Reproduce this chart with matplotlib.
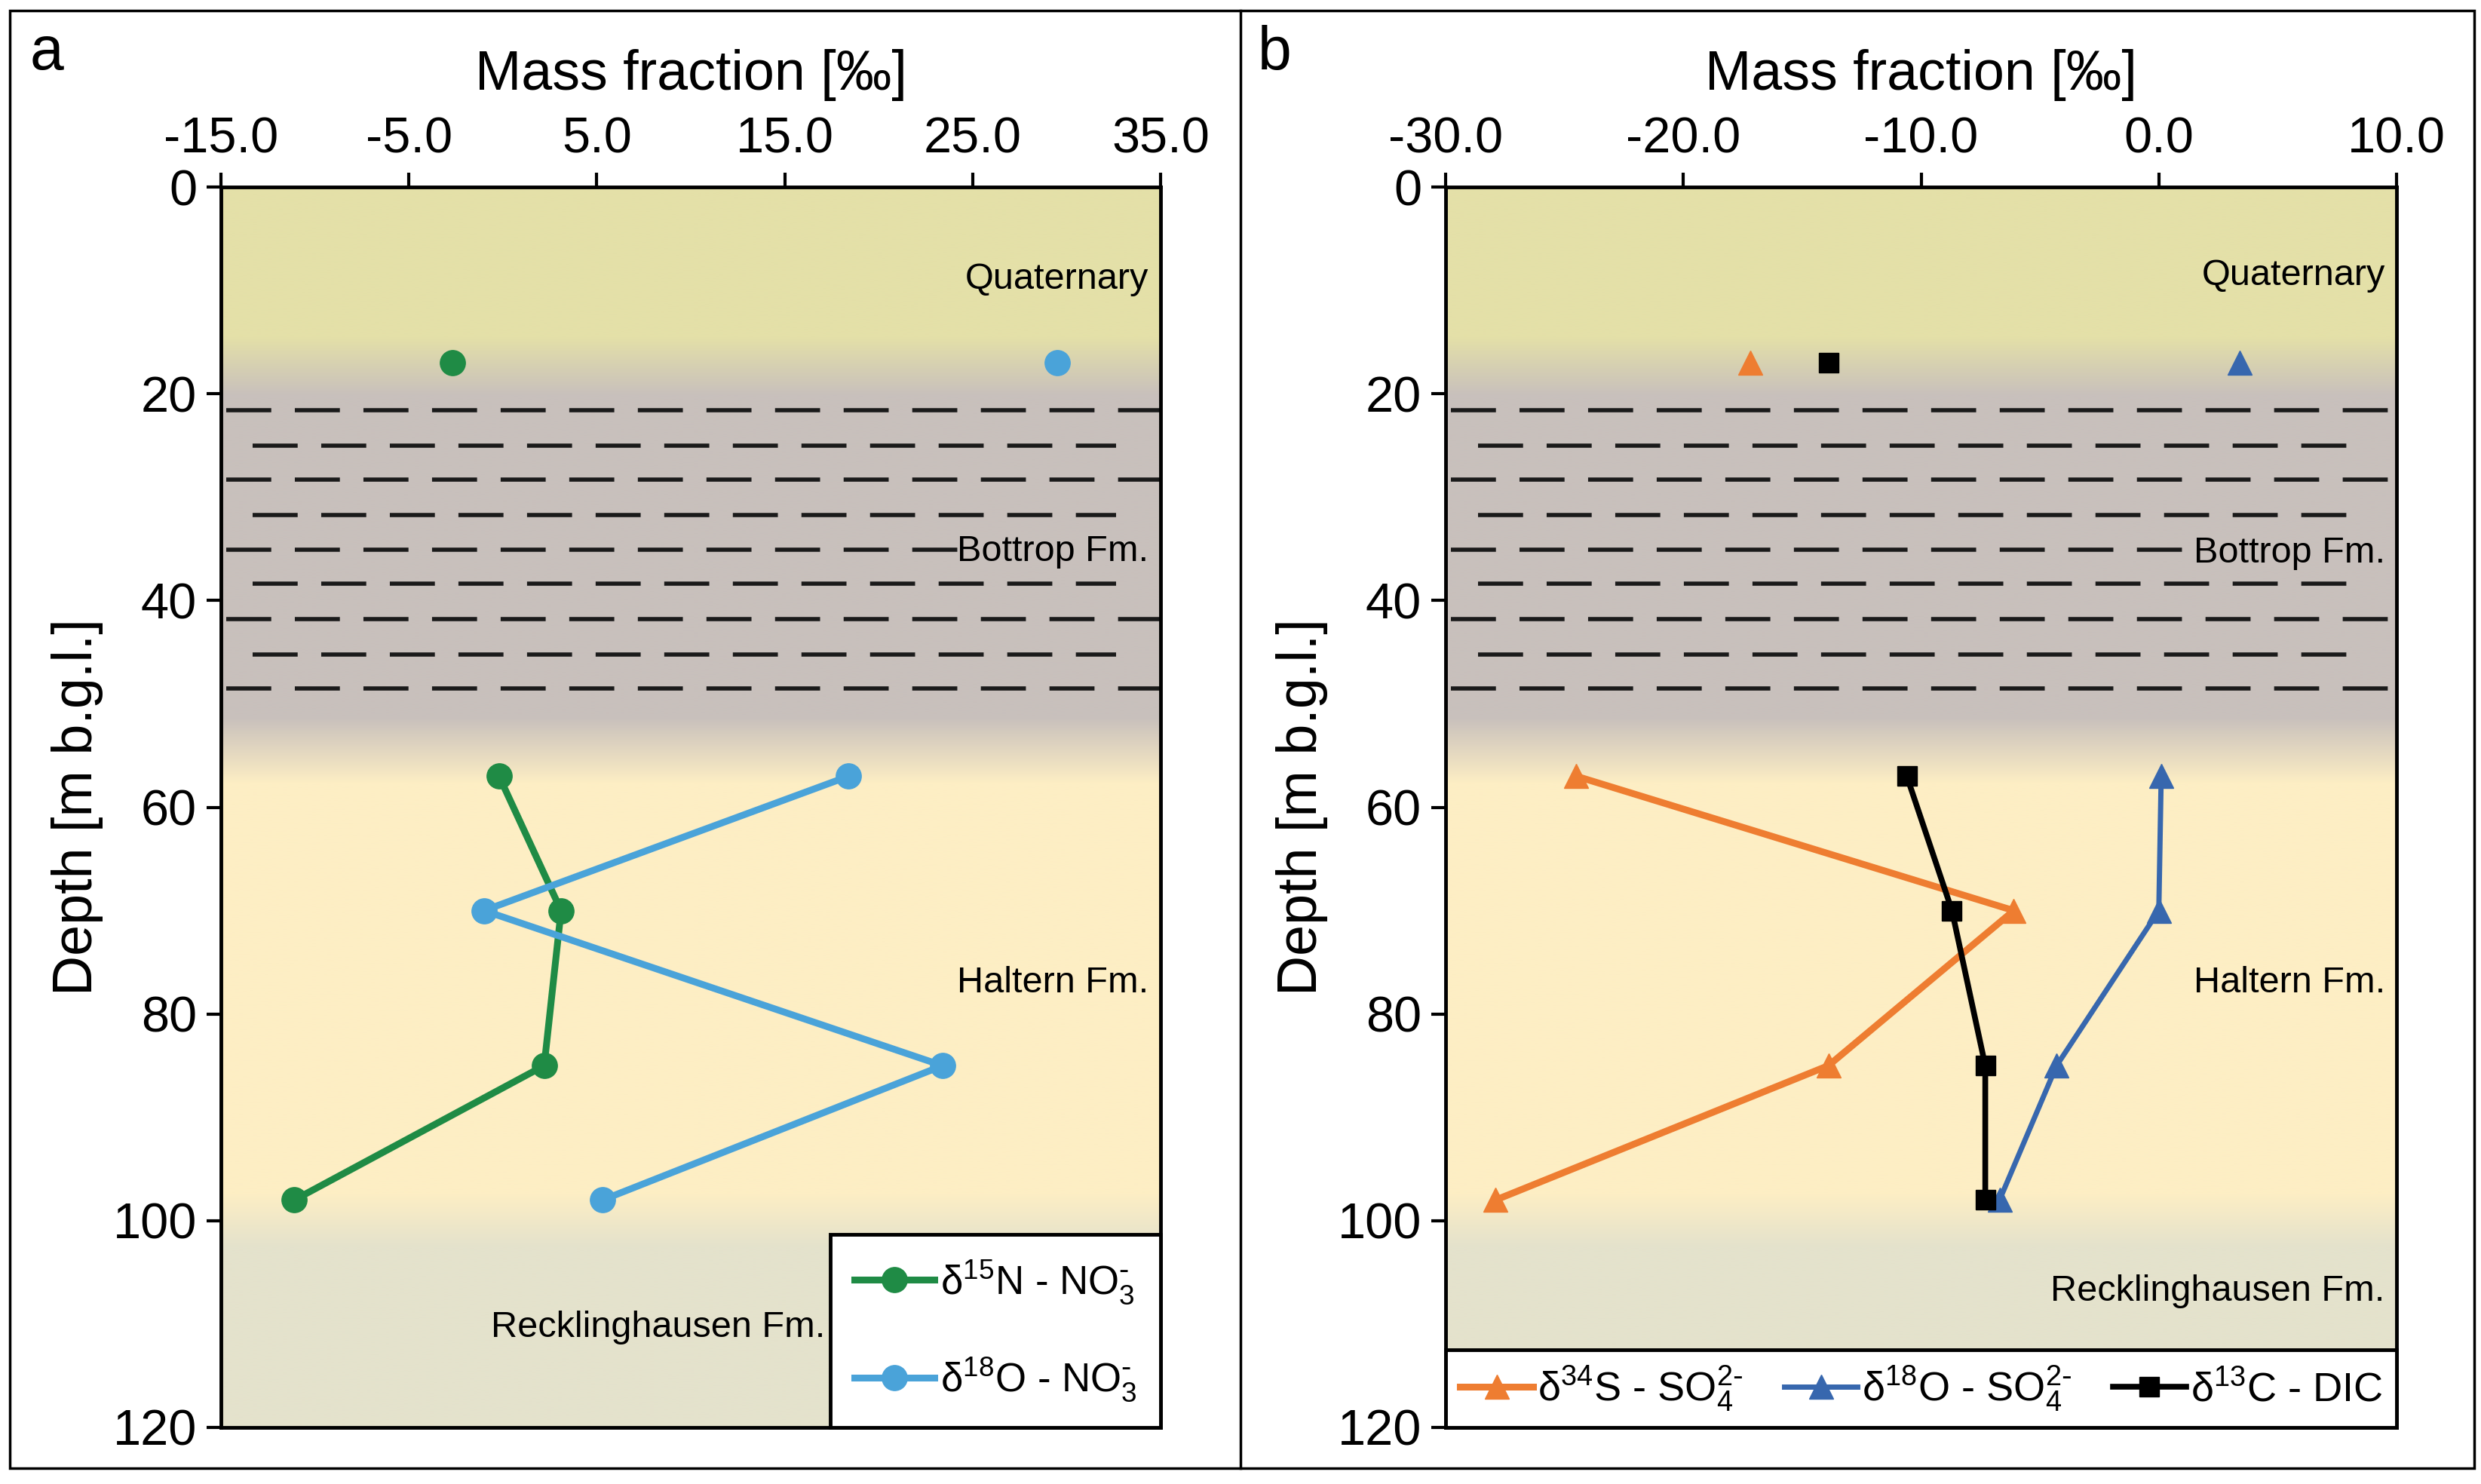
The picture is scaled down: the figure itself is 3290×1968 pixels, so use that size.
import numpy as np
import matplotlib
matplotlib.use("Agg")
from matplotlib import pyplot as plt
from matplotlib.colors import to_rgb
from matplotlib.patches import Rectangle
from matplotlib.lines import Line2D
from matplotlib.ticker import FormatStrFormatter

plt.rcParams['font.family'] = ['Liberation Sans', 'DejaVu Sans']
plt.rcParams['mathtext.default'] = 'regular'
plt.rcParams['axes.unicode_minus'] = False
plt.rcParams['lines.scale_dashes'] = False

# sampling depths [m b.g.l.]
depth = [17, 57, 70, 85, 98]

# panel a - nitrate isotopes [permil]
d15N_no3 = [-2.7, -0.2, 3.1, 2.2, -11.1]
d18O_no3 = [29.5, 18.4, -1.0, 23.4, 5.3]

# panel b - sulfate isotopes and DIC [permil]
d34S_so4 = [-17.2, -24.5, -6.1, -13.9, -27.9]
d18O_so4 = [3.4, 0.1, 0.0, -4.3, -6.7]
d13C_dic = [-13.9, -10.6, -8.7, -7.3, -7.3]

# geology
formations = ["Quaternary", "Bottrop Fm.", "Haltern Fm.", "Recklinghausen Fm."]
form_colors = ["#e4e0a8", "#c8c0bc", "#fdeec4", "#e4e2cc"]
form_bounds = [17.3, 54.5, 100.0]
form_blend = [2.8, 3.2, 2.6]
clay_depths = [21.6, 25.0, 28.3, 31.7, 35.1, 38.4, 41.8, 45.2, 48.5]

xticks_a = [-15, -5, 5, 15, 25, 35]
xticks_b = [-30, -20, -10, 0, 10]
yticks = [0, 20, 40, 60, 80, 100, 120]

W, H = 3291, 1968
fig = plt.figure(figsize=(W / 100, H / 100), dpi=100)


def background(ax, x0, x1):
    z = np.linspace(0, 120, 1201)
    col = np.tile(np.array(to_rgb(form_colors[0])), (len(z), 1))
    for i, b in enumerate(form_bounds):
        t = np.clip((z - (b - form_blend[i])) / (2 * form_blend[i]), 0, 1)[:, None]
        col = col * (1 - t) + np.array(to_rgb(form_colors[i + 1])) * t
    ax.imshow(col[:, None, :], extent=[x0, x1, 120, 0], aspect='auto',
              interpolation='bilinear', zorder=0)
    # clay layers of the Bottrop Fm.
    tr = ax.get_yaxis_transform()
    for k, d in enumerate(clay_depths):
        if k % 2 == 0:
            xs = [0.0056, 0.785 if k == 4 else 1.0]
        else:
            xs = [0.034, 0.953]
        ax.plot(xs, [d, d], transform=tr, color='#1a1a1a', lw=4,
                linestyle=(0, (43, 22.5)), dash_capstyle='butt', zorder=1, clip_on=True)


def style(ax, xlim, xticks):
    ax.set_xlim(*xlim)
    ax.set_ylim(120, 0)
    ax.set_xticks(xticks)
    ax.set_yticks(yticks)
    ax.xaxis.set_major_formatter(FormatStrFormatter('%.1f'))
    ax.tick_params(axis='both', labelsize=48, width=3, length=14, pad=9)
    ax.tick_params(axis='x', top=True, bottom=False, labeltop=True, labelbottom=False)
    ax.xaxis.set_label_position('top')
    ax.set_xlabel('Mass fraction [‰]', fontsize=53, labelpad=25)
    ax.set_ylabel('Depth [m b.g.l.]', fontsize=53, labelpad=9)
    for s in ax.spines.values():
        s.set_linewidth(3.5)
        s.set_zorder(5)


# ---------------- panel a ----------------
ax1 = fig.add_axes([293 / W, 1 - 1893 / H, 1246 / W, 1645 / H])
background(ax1, -15, 35)
green, lblue = '#1f8b45', '#4aa3d9'
l1, = ax1.plot(d15N_no3[1:], depth[1:], '-o', color=green, lw=6.5, ms=24, zorder=3)
ax1.plot(d15N_no3[:1], depth[:1], 'o', color=green, ms=24, zorder=3)
l2, = ax1.plot(d18O_no3[1:], depth[1:], '-o', color=lblue, lw=6.5, ms=24, zorder=3)
ax1.plot(d18O_no3[:1], depth[:1], 'o', color=lblue, ms=24, zorder=3)
style(ax1, (-15, 35), xticks_a)

lab_a = [8.9, 35.3, 77.0, 110.3]
for i, name in enumerate(formations):
    xr = 0.643 if i == 3 else 0.987
    ax1.text(xr, lab_a[i], name, transform=ax1.get_yaxis_transform(), ha='right',
             va='center', fontsize=35, zorder=4)

leg1 = ax1.legend([l1, l2], [r'δ$^{15}$N - NO$_3^{\text{-}}$', r'δ$^{18}$O - NO$_3^{\text{-}}$'],
                  loc='lower right', bbox_to_anchor=(1, 0), fontsize=38, frameon=True,
                  fancybox=False, edgecolor='black', framealpha=1, borderaxespad=0,
                  handlelength=2.0, handletextpad=0.15, labelspacing=1.25, borderpad=0.6)
leg1.get_frame().set_linewidth(3.5)
leg1.set_zorder(6)

# ---------------- panel b ----------------
ax2 = fig.add_axes([1917 / W, 1 - 1893 / H, 1261 / W, 1645 / H])
background(ax2, -30, 10)
orange, blue = '#ee7d31', '#3767ae'
m1, = ax2.plot(d34S_so4[1:], depth[1:], '-^', color=orange, lw=6.5, ms=23, zorder=3)
ax2.plot(d34S_so4[:1], depth[:1], '^', color=orange, ms=23, zorder=3)
m2, = ax2.plot(d18O_so4[1:], depth[1:], '-^', color=blue, lw=5, ms=23, zorder=3)
ax2.plot(d18O_so4[:1], depth[:1], '^', color=blue, ms=23, zorder=3)
m3, = ax2.plot(d13C_dic[1:], depth[1:], '-s', color='black', lw=5.5, ms=19, zorder=3)
ax2.plot(d13C_dic[:1], depth[:1], 's', color='black', ms=19, zorder=3)
style(ax2, (-30, 10), xticks_b)

lab_b = [8.6, 35.4, 77.0, 106.8]
for i, name in enumerate(formations):
    ax2.text(0.988, lab_b[i], name, transform=ax2.get_yaxis_transform(), ha='right',
             va='center', fontsize=35, zorder=4)

leg2 = ax2.legend([m1, m2, m3],
                  [r'δ$^{34}$S - SO$_4^{2\text{-}}$', r'δ$^{18}$O - SO$_4^{2\text{-}}$',
                   r'δ$^{13}$C - DIC'],
                  loc='lower left', bbox_to_anchor=(0, 0, 1, 0.068), mode='expand', ncol=3,
                  fontsize=39, fancybox=False, edgecolor='black', framealpha=1,
                  borderaxespad=0, handlelength=1.8, handletextpad=0.1,
                  columnspacing=0.3, borderpad=0.35)
leg2.get_frame().set_linewidth(3.5)
leg2.set_zorder(6)

# panel letters and outer frame
fig.text(40 / W, 1 - 92 / H, 'a', fontsize=58, va='baseline')
fig.text(1668 / W, 1 - 92 / H, 'b', fontsize=58, va='baseline')
fig.add_artist(Rectangle((13 / W, 1 - 1947 / H), (3281 - 13) / W, (1947 - 14) / H,
                         fill=False, lw=2.5, ec='black', transform=fig.transFigure))
fig.add_artist(Line2D([1645 / W, 1645 / W], [1 - 1947 / H, 1 - 14 / H], lw=2.5,
                      color='black', transform=fig.transFigure))

plt.savefig('out.png', dpi=100, facecolor='white')
plt.close()
